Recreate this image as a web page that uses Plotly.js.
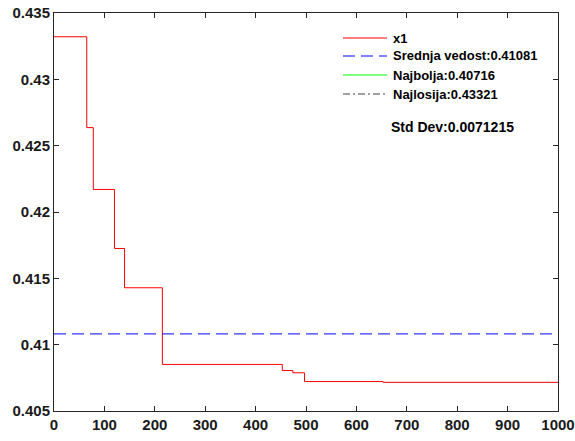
<!DOCTYPE html>
<html>
<head>
<meta charset="utf-8">
<script src="https://cdn.plot.ly/plotly-3.0.1.min.js"></script>
<style>html,body{margin:0;padding:0;background:#fff;}#chart{width:575px;height:441px;}</style>
</head>
<body>
<div id="chart"></div>
<script>
// ---- data ----
const iterX = [0, 65, 78, 120, 140, 215, 453, 474, 497, 653, 1000];
const bestY = [0.43321, 0.42636, 0.42170, 0.41725, 0.41429, 0.40851, 0.40805, 0.40788, 0.40722, 0.40716, 0.40716];
const meanValue = 0.41081;
const bestValue = 0.40716;
const worstValue = 0.43321;
const stdValue = 0.0071215;
const xTicks = [0, 100, 200, 300, 400, 500, 600, 700, 800, 900, 1000];
const yTicks = [0.405, 0.41, 0.415, 0.42, 0.425, 0.43, 0.435];
const legendNames = ['x1', 'Srednja vedost:' + meanValue, 'Najbolja:' + bestValue, 'Najlosija:' + worstValue];
const legendColors = ['#ff0000', '#0000ff', '#00ff00', '#404040'];
const legendDash = ['solid', '12px,6px', 'solid', '7px,3px,2px,3px'];
const stdLabel = 'Std Dev:' + stdValue;

// ---- layout helpers ----
const W = 575, H = 441;
const mL = 54, mR = 17, mT = 13, mB = 30;
const plotW = W - mL - mR, plotH = H - mT - mB;
const px2x = p => (p - mL) / plotW;
const py2y = p => (H - mB - p) / plotH;
const font = '"Liberation Sans", Arial, sans-serif';
const axisColor = '#262626';

const traces = [
  {x: iterX, y: bestY, type: 'scatter', mode: 'lines', line: {shape: 'hv', color: legendColors[0], width: 1}, hoverinfo: 'skip'},
  {x: [xTicks[0], xTicks[xTicks.length - 1]], y: [meanValue, meanValue], type: 'scatter', mode: 'lines',
   line: {color: legendColors[1], width: 1, dash: legendDash[1]}, hoverinfo: 'skip'}
];

const rowsY = [38, 56, 75, 94];
const shapes = [], annotations = [];
legendNames.forEach((name, i) => {
  shapes.push({type: 'line', xref: 'paper', yref: 'paper', x0: px2x(343), x1: px2x(387), y0: py2y(rowsY[i]), y1: py2y(rowsY[i]),
    line: {color: legendColors[i], width: 1, dash: legendDash[i]}});
  annotations.push({xref: 'paper', yref: 'paper', x: px2x(391), y: py2y(rowsY[i]), xanchor: 'left', yanchor: 'middle',
    text: '<b>' + name + '</b>', showarrow: false, font: {family: font, size: 13, color: '#000'}});
});
annotations.push({xref: 'paper', yref: 'paper', x: px2x(389), y: py2y(127), xanchor: 'left', yanchor: 'middle',
  text: '<b>' + stdLabel + '</b>', showarrow: false, font: {family: font, size: 14, color: '#000'}});

const axisCommon = {
  showline: true, mirror: 'ticks', linecolor: axisColor, linewidth: 1,
  ticks: 'inside', ticklen: 5, tickcolor: axisColor, tickwidth: 1,
  showgrid: false, zeroline: false,
  tickfont: {family: font, size: 15, color: '#1a1a1a', weight: 700}
};

const layout = {
  width: W, height: H,
  margin: {l: mL, r: mR, t: mT, b: mB, pad: 0},
  paper_bgcolor: '#fff', plot_bgcolor: '#fff',
  showlegend: false,
  xaxis: Object.assign({}, axisCommon, {range: [0, 1000], tickvals: xTicks, ticktext: xTicks.map(v => '<b>' + v + '</b>')}),
  yaxis: Object.assign({}, axisCommon, {range: [0.405, 0.435], tickvals: yTicks, ticktext: yTicks.map(v => '<b>' + v + '</b>')}),
  shapes: shapes,
  annotations: annotations
};

Plotly.newPlot('chart', traces, layout, {staticPlot: true, displayModeBar: false});
</script>
</body>
</html>
